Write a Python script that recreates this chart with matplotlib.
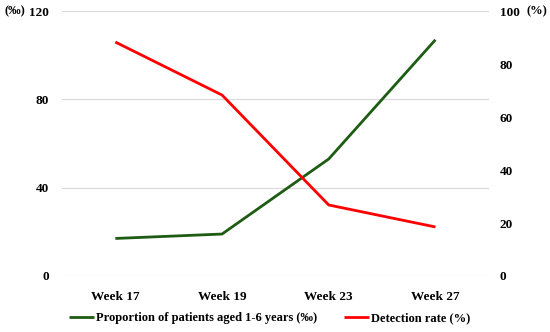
import matplotlib.pyplot as plt

weeks = ["Week 17", "Week 19", "Week 23", "Week 27"]
proportion = [17, 19, 53, 107]      # ‰, left axis
detection = [88.3, 68.3, 26.8, 18.5]  # %, right axis

plt.rcParams["font.family"] = ["Liberation Serif", "DejaVu Serif"]
plt.rcParams["font.weight"] = "bold"

fig = plt.figure(figsize=(5.5, 3.32), dpi=100)
ax = fig.add_axes([0.1127, 0.1687, 0.776, 0.798])
ax2 = ax.twinx()

x = range(len(weeks))
l1, = ax.plot(x, proportion, color="#1e5c14", lw=2, solid_capstyle="butt",
              label="Proportion of patients aged 1-6 years (‰)")
l2, = ax2.plot(x, detection, color="#ff0000", lw=2, solid_capstyle="butt",
               label="Detection rate (%)")

ax.set_xlim(-0.5, 3.5)
ax.set_ylim(0, 120)
ax.set_yticks([0, 40, 80, 120])
ax2.set_ylim(0, 100)
ax2.set_yticks([0, 20, 40, 60, 80, 100])
ax.set_xticks(list(x))
ax.set_xticklabels(weeks)

ax.grid(axis="y", color="#d9d9d9", lw=0.8)
ax.set_axisbelow(True)
for a in (ax, ax2):
    for s in a.spines.values():
        s.set_visible(False)
    a.tick_params(length=0, labelsize=9.5)
ax.tick_params(axis="y", pad=9.5)
ax2.tick_params(axis="y", pad=8)
ax.tick_params(axis="x", pad=11)

fig.text(0.009, 0.967, "(‰)", fontsize=9, va="center", ha="left", fontweight="bold")
fig.text(0.958, 0.967, "(%)", fontsize=9, va="center", ha="left", fontweight="bold")

fig.legend(handles=[l1, l2], loc="center", bbox_to_anchor=(0.49, 0.042), ncol=2,
           frameon=False, fontsize=9, handlelength=2.0, handletextpad=0.15,
           columnspacing=2.2)

fig.savefig("out.png", dpi=100)
